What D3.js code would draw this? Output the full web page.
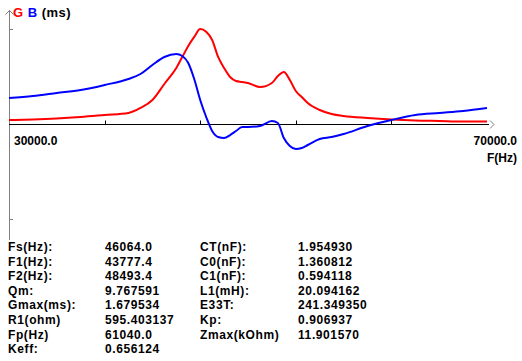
<!DOCTYPE html>
<html>
<head>
<meta charset="utf-8">
<script src="https://cdn.jsdelivr.net/npm/d3@7"></script>
<style>
  body { margin: 0; background: white; }
  svg { display: block; }
  text { font-family: "Liberation Sans", Arial, sans-serif; font-weight: bold; font-size: 12px; fill: #000; }
  .param { letter-spacing: 0.6px; }
  .legend { font-size: 13px; letter-spacing: 0.5px; }
</style>
</head>
<body>
<svg width="522" height="361"></svg>
<script>
// frequency grid (Hz) and the two traces (ms)
var freqs = [30000, 32000, 34000, 36000, 38000, 40000, 41000, 42000, 43000, 44000,
  44500, 45000, 45500, 46000, 46500, 47000, 47500, 48000, 48500, 49000,
  49500, 50000, 51000, 52000, 52500, 53000, 53500, 54000, 54500, 55000,
  56000, 57000, 58000, 60000, 62000, 64000, 66000, 68000, 70000]

var gValues = [0.071, 0.080, 0.097, 0.124, 0.159, 0.195, 0.283, 0.424, 0.707, 0.990,
  1.185, 1.379, 1.539, 1.678, 1.630, 1.485, 1.185, 0.990, 0.831, 0.760,
  0.743, 0.725, 0.654, 0.725, 0.849, 0.920, 0.778, 0.584, 0.477, 0.371,
  0.248, 0.177, 0.141, 0.106, 0.080, 0.062, 0.053, 0.044, 0.044]

var bValues = [0.460, 0.495, 0.548, 0.601, 0.690, 0.796, 0.884, 1.043, 1.185, 1.238,
  1.202, 1.079, 0.796, 0.424, 0.124, -0.124, -0.230, -0.248, -0.195, -0.124,
  -0.053, -0.053, -0.035, 0.053, 0.018, -0.248, -0.389, -0.442, -0.424, -0.371,
  -0.265, -0.230, -0.177, -0.035, 0.071, 0.159, 0.195, 0.230, 0.283]

var gMax = 1.679534
var xTicks = [38000, 46000, 54000, 62000]
var xStartLabel = "30000.0", xEndLabel = "70000.0", xUnit = "F(Hz)"

var leftLabels = ["Fs(Hz):", "F1(Hz):", "F2(Hz):", "Qm:", "Gmax(ms):", "R1(ohm)", "Fp(Hz)", "Keff:"]
var leftValues = ["46064.0", "43777.4", "48493.4", "9.767591", "1.679534", "595.403137", "61040.0", "0.656124"]
var rightLabels = ["CT(nF):", "C0(nF):", "C1(nF):", "L1(mH):", "E33T:", "Kp:", "Zmax(kOhm)"]
var rightValues = ["1.954930", "1.360812", "0.594118", "20.094162", "241.349350", "0.906937", "11.901570"]

var svg = d3.select("svg")

var x = d3.scaleLinear().domain([30000, 70000]).range([9, 487])
var y = d3.scaleLinear().domain([-gMax, gMax]).range([219, 29])

// y axis (grey) with arrow
var yAxis = svg.append("g")
yAxis.append("line")
  .attr("x1", 9.5).attr("x2", 9.5).attr("y1", 10).attr("y2", 240)
  .attr("stroke", "#808080")
yAxis.append("path")
  .attr("d", "M5.5,14.5 L9.5,10.5 L13.5,14.5")
  .attr("fill", "none").attr("stroke", "#808080")
yAxis.selectAll(".ytick").data([gMax, -gMax]).join("line")
  .attr("x1", 9).attr("x2", 13)
  .attr("y1", d => Math.round(y(d)) + 0.5).attr("y2", d => Math.round(y(d)) + 0.5)
  .attr("stroke", "#808080")

// x axis with arrow
var y0 = Math.round(y(0)) + 0.5
var xAxis = svg.append("g")
xAxis.append("line")
  .attr("x1", 9).attr("x2", x(70000) + 2).attr("y1", y0).attr("y2", y0)
  .attr("stroke", "#000")
xAxis.append("path")
  .attr("d", `M${x(70000) + 3},${y0 - 4} L${x(70000) + 7},${y0} L${x(70000) + 3},${y0 + 4}`)
  .attr("fill", "none").attr("stroke", "#808080")
xAxis.selectAll(".xtick").data(xTicks).join("line")
  .attr("x1", d => Math.round(x(d)) + 0.5).attr("x2", d => Math.round(x(d)) + 0.5)
  .attr("y1", y0 - 4).attr("y2", y0)
  .attr("stroke", "#000")

svg.append("text").attr("x", 14).attr("y", 145).text(xStartLabel)
svg.append("text").attr("x", 517).attr("y", 145).attr("text-anchor", "end").text(xEndLabel)
svg.append("text").attr("x", 517).attr("y", 162).attr("text-anchor", "end").text(xUnit)

// legend at top
var legend = svg.append("text").attr("class", "legend").attr("x", 13).attr("y", 17)
legend.append("tspan").style("fill", "red").text("G ")
legend.append("tspan").style("fill", "blue").text("B ")
legend.append("tspan").text("(ms)")

var line = d3.line().curve(d3.curveMonotoneX)
  .x(d => x(d[0]))
  .y(d => y(d[1]))

svg.append("path")
  .attr("d", line(d3.zip(freqs, gValues)))
  .attr("fill", "none").attr("stroke", "red").attr("stroke-width", 2)

svg.append("path")
  .attr("d", line(d3.zip(freqs, bValues)))
  .attr("fill", "none").attr("stroke", "blue").attr("stroke-width", 2)

// parameter table
var rowY = i => 251 + i * 14.6
svg.selectAll(".ll").data(leftLabels).join("text").attr("class", "param")
  .attr("x", 8).attr("y", (d, i) => rowY(i)).text(d => d)
svg.selectAll(".lv").data(leftValues).join("text").attr("class", "param")
  .attr("x", 105).attr("y", (d, i) => rowY(i)).text(d => d)
svg.selectAll(".rl").data(rightLabels).join("text").attr("class", "param")
  .attr("x", 200).attr("y", (d, i) => rowY(i)).text(d => d)
svg.selectAll(".rv").data(rightValues).join("text").attr("class", "param")
  .attr("x", 298).attr("y", (d, i) => rowY(i)).text(d => d)
</script>
</body>
</html>
